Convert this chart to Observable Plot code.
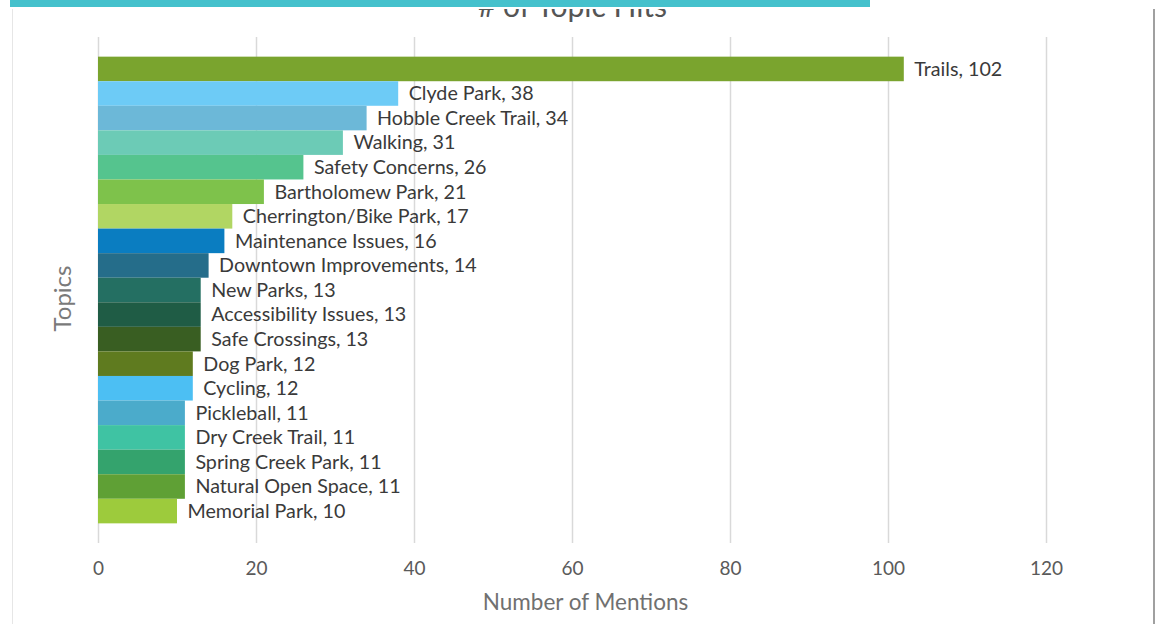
<!DOCTYPE html>
<html>
<head>
<meta charset="utf-8">
<script src="https://cdn.jsdelivr.net/npm/d3@7"></script>
<script src="https://cdn.jsdelivr.net/npm/@observablehq/plot@0.6"></script>
<style>
  html, body { margin: 0; padding: 0; background: #fff; overflow: hidden; }
  #frame { position: relative; width: 1155px; height: 624px; overflow: hidden; font-family: Lato, "Open Sans", sans-serif; }
  #topwhite { position: absolute; left: 0; top: 0; width: 1155px; height: 9px; background: #fff; z-index: 2; }
  #topbar { position: absolute; left: 10px; top: 0; width: 860px; height: 7px; background: #45c1cc; z-index: 3; }
  #border { position: absolute; left: 12px; top: 9px; width: 1143px; height: 640px; border-left: 1px solid #e6e6e6; border-right: 2px solid #a0a0a0; box-sizing: border-box; z-index: 2; pointer-events: none; }
  #chart { position: absolute; left: 0; top: 0; z-index: 1; }
</style>
</head>
<body>
<div id="frame">
  <div id="chart"></div>
  <div id="topwhite"></div>
  <div id="topbar"></div>
  <div id="border"></div>
</div>
<script>
const topics = ["Trails","Clyde Park","Hobble Creek Trail","Walking","Safety Concerns","Bartholomew Park","Cherrington/Bike Park","Maintenance Issues","Downtown Improvements","New Parks","Accessibility Issues","Safe Crossings","Dog Park","Cycling","Pickleball","Dry Creek Trail","Spring Creek Park","Natural Open Space","Memorial Park"];
const mentions = [102,38,34,31,26,21,17,16,14,13,13,13,12,12,11,11,11,11,10];
const colors = ["#7aa42e","#6dcbf6","#6cb8d8","#6ccbb6","#55c48e","#7ec24b","#b1d663","#0a7dc1","#256d8a","#246f62","#1f5c45","#395e22","#5f7b1f","#4cbff3","#4babcb","#3fc3a3","#34a36d","#5fa035","#9dcb3c"];
const xTicks = [0,20,40,60,80,100,120];

const data = topics.map((t, i) => ({topic: t, value: mentions[i], color: colors[i]}));

const chart = Plot.plot({
  width: 1155,
  height: 624,
  marginLeft: 98,
  marginRight: 109,
  marginTop: 37,
  marginBottom: 81,
  style: {fontFamily: "Lato, 'Open Sans', sans-serif", background: "transparent"},
  x: {domain: [0, 120], ticks: xTicks, grid: false, label: null},
  y: {domain: topics, paddingInner: 0, paddingOuter: 0.8, round: false, axis: null},
  marks: [
    Plot.ruleX(xTicks, {stroke: "#d9d9d9", strokeWidth: 1.5}),
    Plot.axisX({ticks: xTicks, tickSize: 0, tickPadding: 18, fontSize: 19, color: "#5a5a5a", label: null}),
    Plot.barX(data, {x: "value", y: "topic", fill: "color"}),
    Plot.text(data, {x: "value", y: "topic", text: d => `${d.topic}, ${d.value}`, textAnchor: "start", dx: 10, fontSize: 19.7, fill: "#3a3a3a"}),
    Plot.text(["# of Topic Hits"], {frameAnchor: "top", lineAnchor: "bottom", dy: -21, fontSize: 30, fill: "#555"}),
    Plot.text(["Number of Mentions"], {frameAnchor: "bottom", dx: 13, dy: 66, fontSize: 22.5, fill: "#707070"}),
    Plot.text(["Topics"], {frameAnchor: "left", textAnchor: "middle", dx: -35, dy: 8, rotate: -90, fontSize: 24, fill: "#7a7a7a"})
  ]
});
document.getElementById("chart").appendChild(chart);
</script>
</body>
</html>
